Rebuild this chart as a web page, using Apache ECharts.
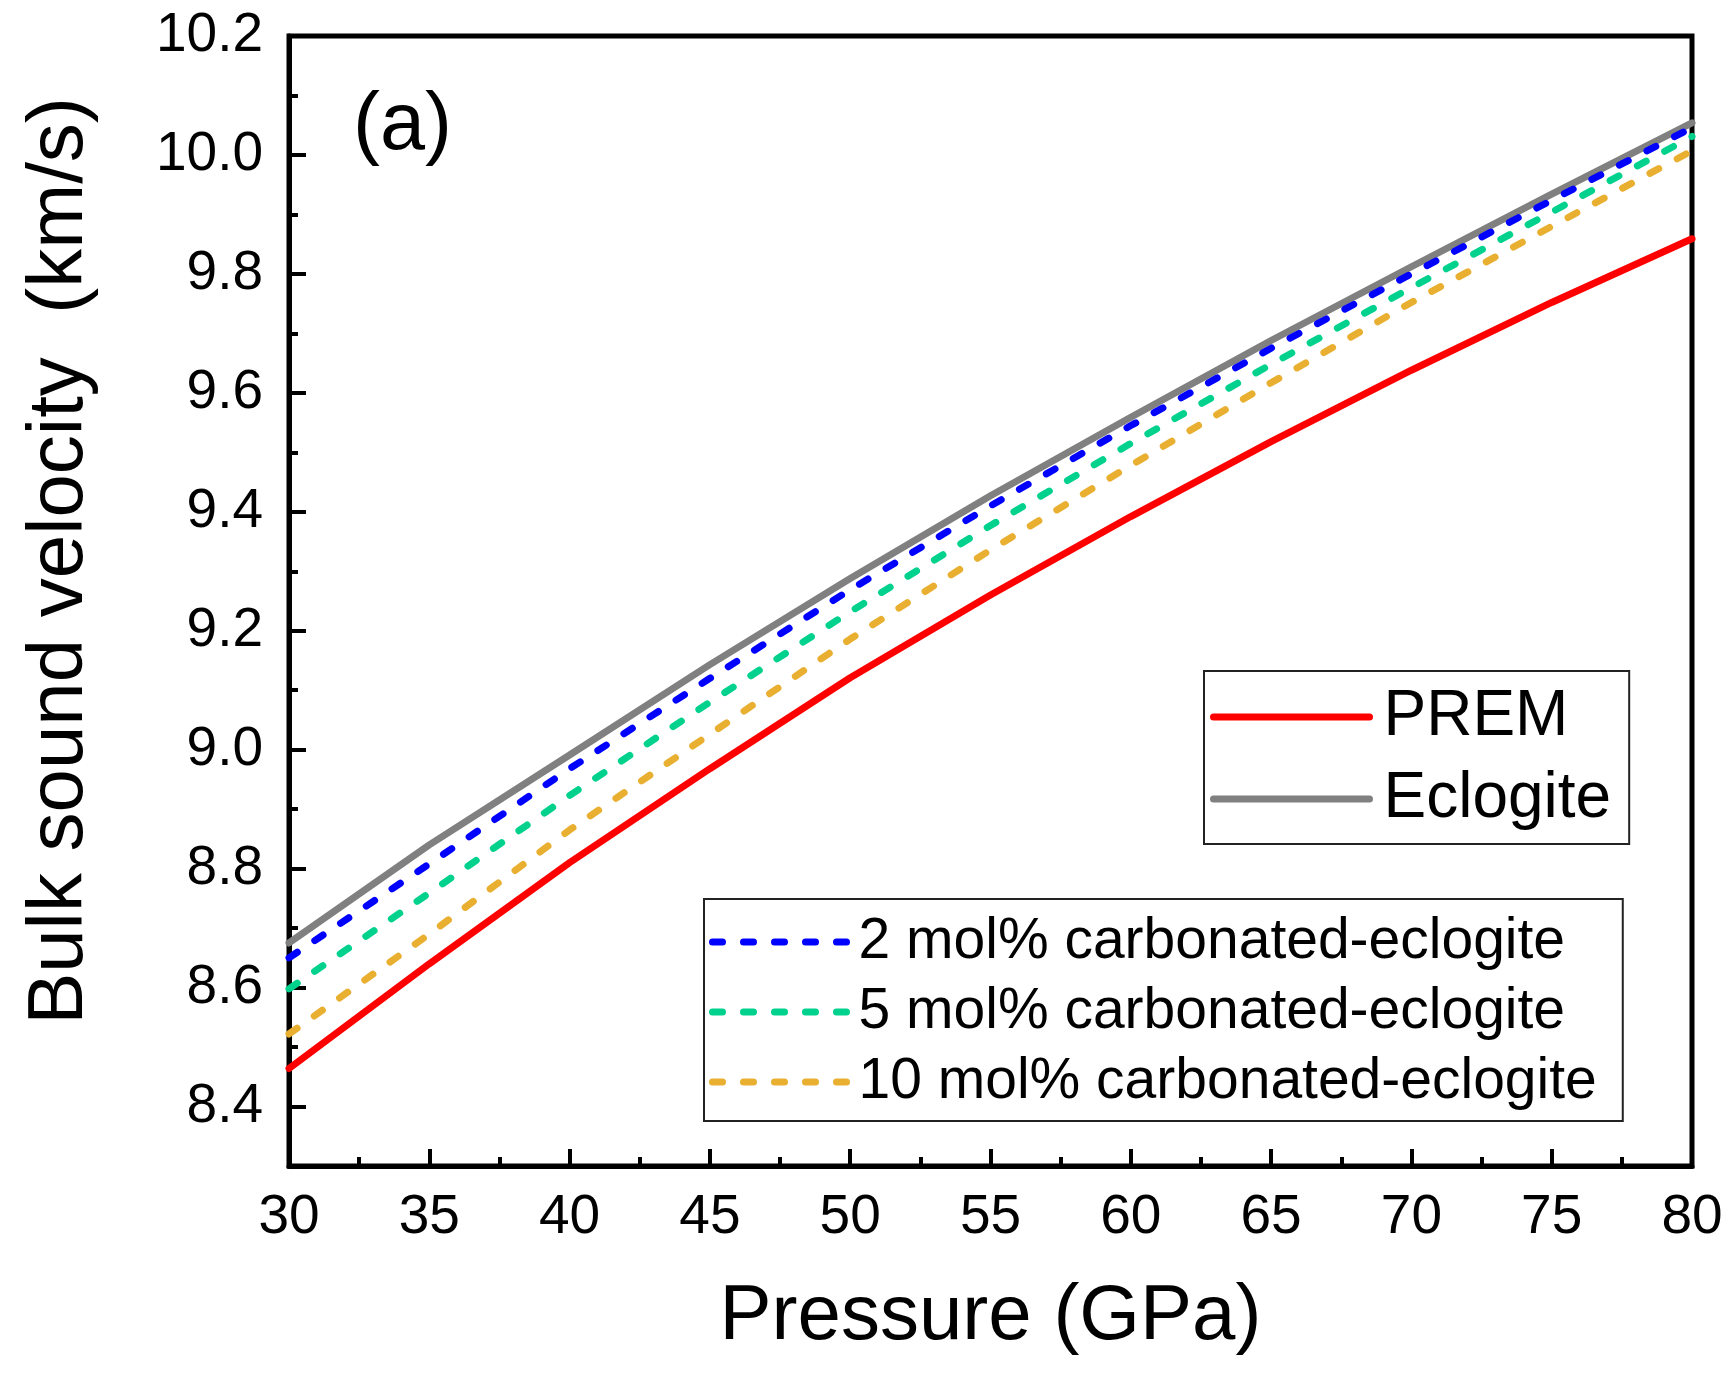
<!DOCTYPE html>
<html>
<head>
<meta charset="utf-8">
<script src="https://cdn.jsdelivr.net/npm/echarts@6/dist/echarts.min.js"></script>
<style>
  html, body { margin: 0; padding: 0; background: #fff; }
  #chart { width: 1728px; height: 1374px; }
</style>
</head>
<body>
<div id="chart"></div>
<script>
// Pressure grid (GPa)
const pressure = [30, 35, 40, 45, 50, 55, 60, 65, 70, 75, 80];

// Bulk sound velocity (km/s)
const prem      = [8.464, 8.640, 8.810, 8.968, 9.121, 9.260, 9.392, 9.518, 9.638, 9.752, 9.859];
const eclogite  = [8.675, 8.840, 8.991, 9.143, 9.288, 9.427, 9.559, 9.688, 9.812, 9.934, 10.054];
const carb2     = [8.650, 8.808, 8.968, 9.120, 9.269, 9.410, 9.545, 9.675, 9.800, 9.924, 10.046];
const carb5     = [8.598, 8.759, 8.923, 9.080, 9.232, 9.377, 9.515, 9.648, 9.777, 9.904, 10.031];
const carb10    = [8.522, 8.690, 8.865, 9.026, 9.186, 9.336, 9.478, 9.617, 9.752, 9.880, 10.007];

// Y axis tick values
const yMajorTicks = [8.4, 8.6, 8.8, 9.0, 9.2, 9.4, 9.6, 9.8, 10.0, 10.2];
const yMinorTicks = [8.5, 8.7, 8.9, 9.1, 9.3, 9.5, 9.7, 9.9, 10.1];

const FONT = '"Liberation Sans", Arial, Helvetica, sans-serif';
const pairs = ys => pressure.map((p, i) => [p, ys[i]]);

const dashed = (name, color, ys) => ({
  name, type: 'line', data: pairs(ys), symbol: 'none', symbolSize: 0, smooth: false,
  lineStyle: { color, width: 7, type: [10, 21], cap: 'round' },
  itemStyle: { color }
});
const solid = (name, color, ys) => ({
  name, type: 'line', data: pairs(ys), symbol: 'none', symbolSize: 0, smooth: false,
  lineStyle: { color, width: 7, type: 'solid', cap: 'round' },
  itemStyle: { color }
});

const chart = echarts.init(document.getElementById('chart'), null, { renderer: 'canvas' });

chart.setOption({
  animation: false,
  backgroundColor: '#fff',
  title: {
    text: '(a)', left: 353, top: 86, padding: 0,
    textStyle: { fontSize: 81, fontWeight: 'normal', fontFamily: FONT, color: '#000' }
  },
  grid: {
    left: 289, right: 36, top: 36, bottom: 208,
    show: true, borderColor: '#000', borderWidth: 5,
    outerBoundsMode: 'none'
  },
  legend: [
    {
      data: ['PREM', 'Eclogite'],
      orient: 'vertical', left: 1204, top: 671,
      padding: [11, 18, 10, 6], itemGap: 12,
      itemWidth: 156, itemHeight: 20,
      borderColor: '#222', borderWidth: 2, borderRadius: 0,
      backgroundColor: '#fff',
      itemStyle: { opacity: 0 },
      lineStyle: { width: 7, opacity: 1 },
      textStyle: { fontSize: 64, lineHeight: 70, fontFamily: FONT, color: '#000', padding: [0, 0, 0, 9] }
    },
    {
      data: ['2 mol% carbonated-eclogite', '5 mol% carbonated-eclogite', '10 mol% carbonated-eclogite'],
      orient: 'vertical', left: 704, top: 899,
      padding: [12, 26, 8, 5], itemGap: 8,
      itemWidth: 136, itemHeight: 20,
      borderColor: '#222', borderWidth: 2, borderRadius: 0,
      backgroundColor: '#fff',
      itemStyle: { opacity: 0 },
      lineStyle: { width: 7, opacity: 1 },
      textStyle: { fontSize: 57, lineHeight: 62, fontFamily: FONT, color: '#000', padding: [0, 0, 0, 5] }
    }
  ],
  xAxis: {
    type: 'value', min: 30, max: 80, interval: 5,
    name: 'Pressure (GPa)', nameLocation: 'middle', nameGap: 112,
    nameTextStyle: { fontSize: 78, fontFamily: FONT, color: '#000' },
    axisLine: { show: true, onZero: false, lineStyle: { color: '#000', width: 5 } },
    axisTick: { show: true, inside: true, length: 17, lineStyle: { color: '#000', width: 4 } },
    minorTick: { show: true, splitNumber: 2, length: 9, lineStyle: { color: '#000', width: 4 } },
    axisLabel: { fontSize: 55, fontFamily: FONT, color: '#000', margin: 24 },
    splitLine: { show: false }, minorSplitLine: { show: false }
  },
  yAxis: [
    {
      type: 'value', min: 8.3, max: 10.2,
      name: 'Bulk sound velocity  (km/s)', nameLocation: 'middle', nameGap: 190,
      nameTextStyle: { fontSize: 78, fontFamily: FONT, color: '#000', padding: [0, 0, 0, 80] },
      axisLine: { show: true, onZero: false, lineStyle: { color: '#000', width: 5 } },
      axisTick: { show: true, inside: true, length: 17, customValues: yMajorTicks, lineStyle: { color: '#000', width: 4 } },
      axisLabel: {
        fontSize: 55, fontFamily: FONT, color: '#000', margin: 26,
        customValues: yMajorTicks, formatter: v => v.toFixed(1)
      },
      splitLine: { show: false }
    },
    {
      type: 'value', min: 8.3, max: 10.2, position: 'left', offset: 0,
      axisLine: { show: false },
      axisTick: { show: true, inside: true, length: 9, customValues: yMinorTicks, lineStyle: { color: '#000', width: 4 } },
      axisLabel: { show: false },
      splitLine: { show: false }
    }
  ],
  series: [
    solid('Eclogite', '#808080', eclogite),
    dashed('2 mol% carbonated-eclogite', '#0000FF', carb2),
    dashed('5 mol% carbonated-eclogite', '#00D18C', carb5),
    dashed('10 mol% carbonated-eclogite', '#E8AF31', carb10),
    solid('PREM', '#FF0000', prem)
  ]
});
</script>
</body>
</html>
